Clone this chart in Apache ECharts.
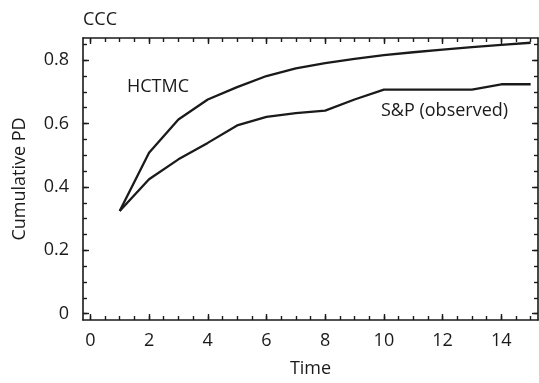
<!DOCTYPE html>
<html>
<head>
<meta charset="utf-8">
<script src="https://cdn.jsdelivr.net/npm/echarts@6/dist/echarts.min.js"></script>
<style>
  html, body { margin: 0; padding: 0; background: #fff; }
  #chart { width: 539px; height: 383px; }
</style>
</head>
<body>
<div id="chart"></div>
<script>
// data
var times = [1, 2, 3, 4, 5, 6, 7, 8, 9, 10, 11, 12, 13, 14, 15];
var hctmc = [0.324, 0.508, 0.613, 0.676, 0.715, 0.750, 0.774, 0.791, 0.804, 0.816, 0.825, 0.833, 0.841, 0.848, 0.855];
var spObserved = [0.324, 0.424, 0.487, 0.539, 0.594, 0.621, 0.633, 0.641, 0.676, 0.707, 0.707, 0.707, 0.707, 0.724, 0.724];

var xLabels = [0, 2, 4, 6, 8, 10, 12, 14];
var xMinor = [0, 0.5, 1, 1.5, 2, 2.5, 3, 3.5, 4, 4.5, 5, 5.5, 6, 6.5, 7, 7.5, 8, 8.5, 9, 9.5, 10, 10.5, 11, 11.5, 12, 12.5, 13, 13.5, 14, 14.5, 15];
var yLabels = [0, 0.2, 0.4, 0.6, 0.8];
var yMinor = [0, 0.05, 0.1, 0.15, 0.2, 0.25, 0.3, 0.35, 0.4, 0.45, 0.5, 0.55, 0.6, 0.65, 0.7, 0.75, 0.8, 0.85];

var FONT = "'Open Sans', 'Noto Sans', sans-serif";
var FS = 18;
var INK = '#1a1a1a';

function pairs(xs, ys) {
    var out = [];
    for (var i = 0; i < xs.length; i++) {
        out.push([xs[i], ys[i]]);
    }
    return out;
}

// one visible axis plus a bare one carrying the minor ticks
function xAx(pos, major) {
    return {
        type: 'value', position: pos, min: -0.25, max: 15.25,
        name: (pos === 'bottom' && major) ? 'Time' : '',
        nameLocation: 'middle', nameGap: 40,
        nameTextStyle: {fontFamily: FONT, fontSize: FS, color: INK},
        axisLine: {show: major, onZero: false, lineStyle: {color: INK, width: 1.6}},
        axisTick: {show: true, inside: true, length: major ? 6 : 4,
            customValues: major ? xLabels : xMinor,
            lineStyle: {color: INK, width: 1.4}},
        axisLabel: {show: pos === 'bottom' && major, customValues: xLabels, margin: 12,
            fontFamily: FONT, fontSize: FS, color: INK},
        splitLine: {show: false}
    };
}

function yAx(pos, major) {
    return {
        type: 'value', position: pos, min: -0.02, max: 0.87,
        name: (pos === 'left' && major) ? 'Cumulative PD' : '',
        nameLocation: 'middle', nameGap: 54,
        nameTextStyle: {fontFamily: FONT, fontSize: FS, color: INK},
        axisLine: {show: major, onZero: false, lineStyle: {color: INK, width: 1.6}},
        axisTick: {show: true, inside: true, length: major ? 6 : 4,
            customValues: major ? yLabels : yMinor,
            lineStyle: {color: INK, width: 1.4}},
        axisLabel: {show: pos === 'left' && major, customValues: yLabels, margin: 14,
            fontFamily: FONT, fontSize: FS, color: INK,
            formatter: function (v) { return v === 0 ? '0' : v.toFixed(1); }},
        splitLine: {show: false}
    };
}

var chart = echarts.init(document.getElementById('chart'));
chart.setOption({
    animation: false,
    backgroundColor: '#fff',
    grid: {left: 83, right: 1, top: 38, bottom: 63},
    title: {
        text: 'CCC', left: 78, top: 6,
        textStyle: {fontFamily: FONT, fontSize: FS, fontWeight: 'normal', color: INK}
    },
    xAxis: [xAx('bottom', true), xAx('bottom', false), xAx('top', true), xAx('top', false)],
    yAxis: [yAx('left', true), yAx('left', false), yAx('right', true), yAx('right', false)],
    graphic: [
        {type: 'text', left: 127, top: 78,
            style: {text: 'HCTMC', fontFamily: FONT, fontSize: FS, fill: INK}},
        {type: 'text', left: 381, top: 102,
            style: {text: 'S&P (observed)', fontFamily: FONT, fontSize: FS, fill: INK}}
    ],
    series: [
        {
            name: 'HCTMC', type: 'line', data: pairs(times, hctmc),
            showSymbol: false, symbol: 'none',
            lineStyle: {color: INK, width: 2.3}
        },
        {
            name: 'S&P (observed)', type: 'line', data: pairs(times, spObserved),
            showSymbol: false, symbol: 'none',
            lineStyle: {color: INK, width: 2.3}
        }
    ]
});
</script>
</body>
</html>
